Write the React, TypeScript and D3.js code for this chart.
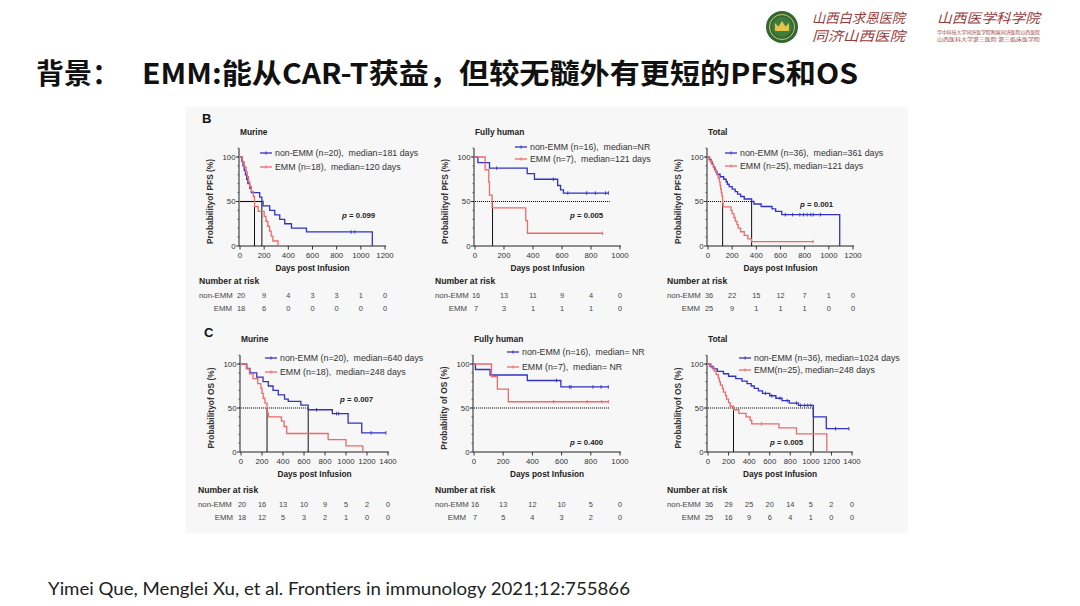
import React from 'react';
import * as d3 from 'd3';

type Pt = [number, number];

// ---------------- data ----------------
const titleMain = '背景：';
const titleRest = 'EMM:能从CAR-T获益，但较无髓外有更短的PFS和OS';
const citation = 'Yimei Que, Menglei Xu, et al. Frontiers in immunology 2021;12:755866';
const panelTitles = ['Murine', 'Fully human', 'Total'];
const xTicks1200 = [0, 200, 400, 600, 800, 1000, 1200];
const xTicks1000 = [0, 200, 400, 600, 800, 1000];
const xTicks1400 = [0, 200, 400, 600, 800, 1000, 1200, 1400];
const yTicks = [0, 50, 100];
const groupLabels = ['non-EMM', 'EMM'];

// PFS – Murine
const pfsMurineNon: Pt[] = [[0, 100], [15, 95], [25, 90], [35, 85], [45, 80], [55, 75], [65, 70], [80, 65], [94, 60], [163, 55], [181, 50], [191, 45], [246, 40], [288, 35], [329, 30], [370, 25], [426, 20], [550, 15.8], [1095, 0]];
const pfsMurineNonCens = [920, 950];
const pfsMurineEmm: Pt[] = [[0, 100], [20, 94.4], [35, 88.9], [50, 83.3], [60, 77.8], [70, 72.2], [80, 66.7], [95, 61.1], [110, 55.6], [120, 44.4], [150, 38.9], [200, 33.3], [215, 27.8], [230, 22.2], [245, 16.7], [258, 11.1], [272, 5.6], [315, 0]];
const pfsMurineEmmCens: number[] = [];
// PFS – Fully human
const pfsHumanNon: Pt[] = [[0, 100], [20, 93.75], [100, 87.5], [360, 81.25], [410, 75], [570, 68], [590, 63], [610, 59.5], [920, 59.5]];
const pfsHumanNonCens = [150, 540, 640, 770, 830, 900, 920];
const pfsHumanEmm: Pt[] = [[0, 100], [70, 85.7], [95, 71.4], [100, 57.1], [118, 42.9], [350, 28.6], [362, 14.3], [880, 14.3]];
const pfsHumanEmmCens: number[] = [880];
// PFS – Total
const pfsTotalNon: Pt[] = [[0, 100], [10, 97.2], [25, 94.4], [35, 91.7], [45, 88.9], [55, 86.1], [65, 83.3], [75, 80.6], [100, 77.8], [130, 75], [150, 72.2], [160, 69.4], [175, 66.7], [200, 63.9], [225, 61.1], [245, 58.3], [270, 55.6], [300, 52.8], [361, 50], [380, 47.2], [440, 44.4], [530, 41.7], [560, 38.9], [610, 35.2], [1090, 0]];
const pfsTotalNonCens = [640, 700, 760, 790, 820, 850, 870, 930];
const pfsTotalEmm: Pt[] = [[0, 100], [15, 96], [30, 92], [45, 88], [60, 84], [75, 80], [85, 76], [95, 72], [100, 68], [105, 64], [110, 60], [115, 56], [121, 48], [125, 44], [190, 40], [200, 36], [215, 32], [225, 28], [240, 24], [250, 20], [270, 16], [300, 12], [330, 8], [360, 5], [870, 5]];
const pfsTotalEmmCens: number[] = [870];

// OS – Murine
const osMurineNon: Pt[] = [[0, 100], [55, 95], [85, 90], [150, 85], [210, 80], [260, 75], [305, 70], [355, 65], [415, 60], [450, 57.5], [570, 53.3], [640, 48], [870, 43.6], [1020, 32.7], [1150, 21.8], [1380, 21.8]];
const osMurineNonCens = [720, 910, 930, 1240, 1380];
const osMurineEmm: Pt[] = [[0, 100], [50, 94.4], [80, 88.9], [115, 83.3], [160, 77.8], [190, 72.2], [200, 66.7], [212, 61.1], [228, 55.6], [248, 44.4], [260, 40], [385, 35], [410, 29], [435, 21], [830, 14], [1000, 7], [1160, 0]];
const osMurineEmmCens: number[] = [];
// OS – Fully human
const osHumanNon: Pt[] = [[0, 100], [10, 93.75], [110, 87.5], [365, 81.25], [595, 73.9], [920, 73.9]];
const osHumanNonCens = [565, 655, 665, 815, 870, 920];
const osHumanEmm: Pt[] = [[0, 100], [120, 85.7], [160, 71.4], [235, 57.1], [920, 57.1]];
const osHumanEmmCens = [545, 775, 875, 920];
// OS – Total
const osTotalNon: Pt[] = [[0, 100], [20, 97.2], [50, 94.4], [90, 91.7], [150, 88.9], [200, 86.1], [270, 83.3], [330, 80.6], [380, 77.8], [420, 75], [450, 72.2], [490, 69.4], [530, 66.7], [600, 63.9], [660, 61.1], [720, 58.3], [790, 55.6], [880, 53], [1024, 40], [1150, 26.5], [1370, 26.5]];
const osTotalNonCens = [560, 620, 700, 770, 860, 900, 940, 970, 1000, 1240, 1370];
const osTotalEmm: Pt[] = [[0, 100], [30, 96], [60, 92], [80, 88], [100, 84], [110, 80], [120, 76], [140, 72], [150, 68], [170, 64], [180, 60], [200, 56], [215, 52], [248, 48], [300, 44], [370, 40], [410, 36], [425, 32], [690, 27.5], [860, 20.6], [1155, 0]];
const osTotalEmmCens = [520];

// number at risk
const riskPfsMurineNon = [20, 9, 4, 3, 3, 1, 0];
const riskPfsMurineEmm = [18, 6, 0, 0, 0, 0, 0];
const riskPfsHumanNon = [16, 13, 11, 9, 4, 0];
const riskPfsHumanEmm = [7, 3, 1, 1, 1, 0];
const riskPfsTotalNon = [36, 22, 15, 12, 7, 1, 0];
const riskPfsTotalEmm = [25, 9, 1, 1, 1, 0, 0];
const riskOsMurineNon = [20, 16, 13, 10, 9, 5, 2, 0];
const riskOsMurineEmm = [18, 12, 5, 3, 2, 1, 0, 0];
const riskOsHumanNon = [16, 13, 12, 10, 5, 0];
const riskOsHumanEmm = [7, 5, 4, 3, 2, 0];
const riskOsTotalNon = [36, 29, 25, 20, 14, 5, 2, 0];
const riskOsTotalEmm = [25, 16, 9, 6, 4, 1, 0, 0];

// legends / stats text
const legendPfsMurine = ['non-EMM (n=20),  median=181 days', 'EMM (n=18),  median=120 days'];
const legendPfsHuman = ['non-EMM (n=16),  median=NR', 'EMM (n=7),  median=121 days'];
const legendPfsTotal = ['non-EMM (n=36),  median=361 days', 'EMM (n=25), median=121 days'];
const legendOsMurine = ['non-EMM (n=20),  median=640 days', 'EMM (n=18),  median=248 days'];
const legendOsHuman = ['non-EMM (n=16),  median= NR', 'EMM (n=7),  median= NR'];
const legendOsTotal = ['non-EMM (n=36), median=1024 days', 'EMM(n=25), median=248 days'];
const pValues = ['0.099', '0.005', '0.001', '0.007', '0.400', '0.005'];
const medianPfsMurine = [120, 181];
const medianPfsHuman = [121];
const medianPfsTotal = [121, 361];
const medianOsMurine = [248, 640];
const medianOsHuman: number[] = [];
const medianOsTotal = [248, 1024];

// ---------------- layout ----------------
const BLUE = '#3232c4';
const RED = '#ee6a6a';
const FONT = '"Liberation Sans", Arial, sans-serif';

interface Cfg {
  title: string; ylab: string; left: number; width: number; top: number; bottom: number;
  xMax: number; ticks: number[];
  non: Pt[]; nonC: number[]; emm: Pt[]; emmC: number[];
  legend: string[]; legX: number; legY: number[];
  p: string; pX: number; pY: number;
  hEnd: number; hDotted: boolean; verts: number[];
  riskNon: number[]; riskEmm: number[]; riskX: number; riskY: number;
}

const rowB = { top: 157, bottom: 246, riskY: 281 };
const rowC = { top: 364, bottom: 452, riskY: 490 };

const panels: Cfg[] = [
  { title: panelTitles[0], ylab: 'Probabilityof PFS (%)', left: 240, width: 145, ...rowB, xMax: 1200, ticks: xTicks1200,
    non: pfsMurineNon, nonC: pfsMurineNonCens, emm: pfsMurineEmm, emmC: pfsMurineEmmCens,
    legend: legendPfsMurine, legX: 260, legY: [153, 167], p: pValues[0], pX: 342, pY: 215,
    hEnd: 181, hDotted: false, verts: medianPfsMurine, riskNon: riskPfsMurineNon, riskEmm: riskPfsMurineEmm, riskX: 199 },
  { title: panelTitles[1], ylab: 'Probabilityof PFS (%)', left: 475, width: 145, ...rowB, xMax: 1000, ticks: xTicks1000,
    non: pfsHumanNon, nonC: pfsHumanNonCens, emm: pfsHumanEmm, emmC: pfsHumanEmmCens,
    legend: legendPfsHuman, legX: 515, legY: [147, 159], p: pValues[1], pX: 570, pY: 215,
    hEnd: 930, hDotted: true, verts: medianPfsHuman, riskNon: riskPfsHumanNon, riskEmm: riskPfsHumanEmm, riskX: 435 },
  { title: panelTitles[2], ylab: 'Probabilityof PFS (%)', left: 708, width: 145, ...rowB, xMax: 1200, ticks: xTicks1200,
    non: pfsTotalNon, nonC: pfsTotalNonCens, emm: pfsTotalEmm, emmC: pfsTotalEmmCens,
    legend: legendPfsTotal, legX: 725, legY: [153, 166], p: pValues[2], pX: 800, pY: 204,
    hEnd: 361, hDotted: true, verts: medianPfsTotal, riskNon: riskPfsTotalNon, riskEmm: riskPfsTotalEmm, riskX: 667 },
  { title: panelTitles[0], ylab: 'Probabilityof OS (%)', left: 241, width: 147, ...rowC, xMax: 1400, ticks: xTicks1400,
    non: osMurineNon, nonC: osMurineNonCens, emm: osMurineEmm, emmC: osMurineEmmCens,
    legend: legendOsMurine, legX: 265, legY: [358, 372], p: pValues[3], pX: 340, pY: 399,
    hEnd: 640, hDotted: true, verts: medianOsMurine, riskNon: riskOsMurineNon, riskEmm: riskOsMurineEmm, riskX: 198 },
  { title: panelTitles[1], ylab: 'Probability of OS (%)', left: 474, width: 146, ...rowC, xMax: 1000, ticks: xTicks1000,
    non: osHumanNon, nonC: osHumanNonCens, emm: osHumanEmm, emmC: osHumanEmmCens,
    legend: legendOsHuman, legX: 507, legY: [352, 367], p: pValues[4], pX: 570, pY: 442,
    hEnd: 925, hDotted: true, verts: medianOsHuman, riskNon: riskOsHumanNon, riskEmm: riskOsHumanEmm, riskX: 435 },
  { title: panelTitles[2], ylab: 'Probabilityof OS (%)', left: 708, width: 144, ...rowC, xMax: 1400, ticks: xTicks1400,
    non: osTotalNon, nonC: osTotalNonCens, emm: osTotalEmm, emmC: osTotalEmmCens,
    legend: legendOsTotal, legX: 739, legY: [358, 370], p: pValues[5], pX: 770, pY: 442,
    hEnd: 1024, hDotted: true, verts: medianOsTotal, riskNon: riskOsTotalNon, riskEmm: riskOsTotalEmm, riskX: 667 },
];

function stepValue(data: Pt[], t: number) {
  const i = d3.bisector((d: Pt) => d[0]).right(data, t) - 1;
  return data[Math.max(0, i)][1];
}

function KMPanel({ c }: { c: Cfg }) {
  const x = d3.scaleLinear().domain([0, c.xMax]).range([c.left, c.left + c.width]);
  const y = d3.scaleLinear().domain([0, 100]).range([c.bottom, c.top]);
  const line = d3.line<Pt>().x(d => x(d[0])).y(d => y(d[1])).curve(d3.curveStepAfter);
  const minor = d3.range(10, 111, 10);
  const curves = [
    { data: c.non, cens: c.nonC, color: BLUE },
    { data: c.emm, cens: c.emmC, color: RED },
  ];
  const dash = c.hDotted ? '1.1,0.9' : undefined;
  return (
    <g fontFamily={FONT}>
      <text x={c.left} y={c.top - 22} fontSize={8.4} fontWeight="bold" fill="#222">{c.title}</text>
      {/* axes */}
      <line x1={x(0) - 1} x2={x(0) - 1} y1={y(0)} y2={y(110)} stroke="#222" strokeWidth={1} />
      <line x1={x(0) - 1} x2={x(c.xMax) + 1} y1={y(0)} y2={y(0)} stroke="#222" strokeWidth={1} />
      {minor.map(v => (
        <line key={'m' + v} x1={x(0) - 1} x2={x(0) - 2.6} y1={y(v)} y2={y(v)} stroke="#222" strokeWidth={0.6} />
      ))}
      {yTicks.map(v => (
        <g key={'y' + v}>
          <line x1={x(0) - 1} x2={x(0) - 4} y1={y(v)} y2={y(v)} stroke="#222" strokeWidth={0.9} />
          <text x={x(0) - 4.5} y={y(v) + 2.7} fontSize={7.8} textAnchor="end" fill="#333">{v}</text>
        </g>
      ))}
      {c.ticks.map(v => (
        <g key={'x' + v}>
          <line x1={x(v)} x2={x(v)} y1={y(0)} y2={y(0) + 3.5} stroke="#222" strokeWidth={0.9} />
          <text x={x(v)} y={y(0) + 11.5} fontSize={7.8} textAnchor="middle" fill="#333">{v}</text>
        </g>
      ))}
      <text x={x(c.xMax / 2)} y={y(0) + 24.5} fontSize={8.3} fontWeight="bold" textAnchor="middle" fill="#222">Days post Infusion</text>
      <text transform={`translate(${c.left - 27},${(c.top + c.bottom) / 2}) rotate(-90)`} fontSize={8.4} fontWeight="bold" textAnchor="middle" fill="#333">{c.ylab}</text>
      {/* median lines */}
      <line x1={x(0)} x2={x(c.hEnd)} y1={y(50)} y2={y(50)} stroke="#111" strokeWidth={1.1} strokeDasharray={dash} />
      {c.verts.map(v => (
        <line key={'v' + v} x1={x(v)} x2={x(v)} y1={y(50)} y2={y(0)} stroke="#111" strokeWidth={1} />
      ))}
      {/* curves */}
      {curves.map((cv, i) => (
        <g key={'c' + i}>
          <path d={line(cv.data) || ''} fill="none" stroke={cv.color} strokeWidth={1.3} />
          {cv.cens.map(t => (
            <line key={t} x1={x(t)} x2={x(t)} y1={y(stepValue(cv.data, t)) - 1.8} y2={y(stepValue(cv.data, t)) + 1.8} stroke={cv.color} strokeWidth={0.9} />
          ))}
        </g>
      ))}
      {/* legend */}
      {c.legend.map((s, i) => (
        <g key={'l' + i}>
          <line x1={c.legX} x2={c.legX + 12} y1={c.legY[i]} y2={c.legY[i]} stroke={i === 0 ? BLUE : RED} strokeWidth={1.3} />
          <line x1={c.legX + 6} x2={c.legX + 6} y1={c.legY[i] - 1.6} y2={c.legY[i] + 1.6} stroke={i === 0 ? BLUE : RED} strokeWidth={0.9} />
          <text x={c.legX + 15} y={c.legY[i] + 3} fontSize={8.8} fill="#333" style={{ whiteSpace: 'pre' }}>{s}</text>
        </g>
      ))}
      <text x={c.pX} y={c.pY + 2.8} fontSize={7.8} fontWeight="bold" fill="#222" style={{ whiteSpace: 'pre' }}>
        <tspan fontStyle="italic">p</tspan>{' = ' + c.p}
      </text>
      {/* risk table */}
      <text x={c.riskX} y={c.riskY + 3} fontSize={8.6} fontWeight="bold" fill="#222">Number at risk</text>
      <text x={c.riskX} y={c.riskY + 16.5} fontSize={7.8} fill="#444">{groupLabels[0]}</text>
      <text x={x(0) - 8} y={c.riskY + 29.5} fontSize={7.8} fill="#444" textAnchor="end">{groupLabels[1]}</text>
      {c.riskNon.map((n, i) => (
        <text key={'rn' + i} x={x(c.ticks[i]) + (i === 0 ? 1 : 0)} y={c.riskY + 16.5} fontSize={7.4} textAnchor="middle" fill="#444">{n}</text>
      ))}
      {c.riskEmm.map((n, i) => (
        <text key={'re' + i} x={x(c.ticks[i]) + (i === 0 ? 1 : 0)} y={c.riskY + 29.5} fontSize={7.4} textAnchor="middle" fill="#444">{n}</text>
      ))}
    </g>
  );
}

function Logos() {
  const brown = '#9a3b3b';
  return (
    <g>
      <circle cx={782} cy={27} r={16} fill="#2f6a36" />
      <circle cx={782} cy={27} r={12.5} fill="none" stroke="#d9c36a" strokeWidth={1} />
      <circle cx={782} cy={27} r={10} fill="#3f7d3c" />
      <path d="M775,31 L775,23 L778.5,26.5 L782,21 L785.5,26.5 L789,23 L789,31 Z" fill="#e2c54a" />
      <text x={812} y={23} fontSize={13.5} fontFamily='"Noto Sans CJK SC", serif' fill={brown} textLength={93} lengthAdjust="spacingAndGlyphs" fontStyle="italic">山西白求恩医院</text>
      <text x={812} y={41} fontSize={13.5} fontFamily='"Noto Sans CJK SC", serif' fill={brown} textLength={93} lengthAdjust="spacingAndGlyphs" fontStyle="italic">同济山西医院</text>
      <text x={937} y={23} fontSize={13.5} fontFamily='"Noto Sans CJK SC", serif' fill={brown} textLength={103} lengthAdjust="spacingAndGlyphs" fontStyle="italic">山西医学科学院</text>
      <text x={937} y={34} fontSize={4.5} fontFamily='"Noto Sans CJK SC", serif' fill={brown} textLength={103} lengthAdjust="spacingAndGlyphs">华中科技大学同济医学院附属同济医院山西医院</text>
      <text x={937} y={41} fontSize={4.5} fontFamily='"Noto Sans CJK SC", serif' fill={brown} textLength={103} lengthAdjust="spacingAndGlyphs">山西医科大学第三医院 第三临床医学院</text>
    </g>
  );
}

export default function App() {
  return (
    <div style={{ position: 'absolute', left: 0, top: 0 }}>
      <svg width={1080} height={606} viewBox="0 0 1080 606" style={{ display: 'block', background: '#ffffff' }}>
        <rect x={0} y={0} width={1080} height={606} fill="#ffffff" />
        <Logos />
        <text y={84} fontSize={28} fontWeight="bold" fontFamily='"Noto Sans CJK SC", sans-serif' fill="#111">
          <tspan x={36}>{titleMain}</tspan>
          <tspan x={142} textLength={716} lengthAdjust="spacingAndGlyphs">{titleRest}</tspan>
        </text>
        <rect x={185} y={107} width={723} height={426} fill="#f7f7f7" />
        <text x={202} y={123} fontSize={13} fontWeight="bold" fontFamily={FONT} fill="#111">B</text>
        <text x={204} y={337} fontSize={13} fontWeight="bold" fontFamily={FONT} fill="#111">C</text>
        {panels.map((c, i) => <KMPanel key={i} c={c} />)}
        <text x={48} y={595} fontSize={18} fontFamily='Lato, "Open Sans", sans-serif' fill="#222" textLength={582} lengthAdjust="spacingAndGlyphs">{citation}</text>
      </svg>
    </div>
  );
}
